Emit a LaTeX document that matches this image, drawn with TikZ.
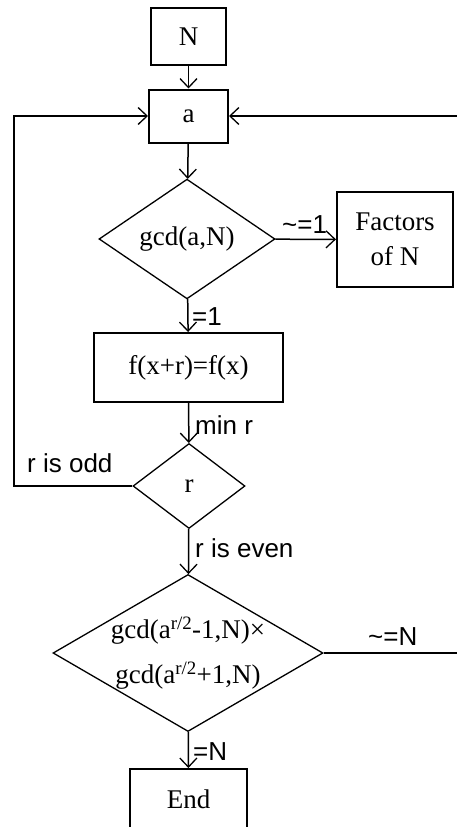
\documentclass[tikz,border=0pt]{standalone}
\usepackage{fontspec}
\setmainfont{Liberation Serif}
\setsansfont{Liberation Sans}
\usetikzlibrary{shapes.geometric,arrows.meta}

\tikzset{
  caja/.style={draw, line width=2pt, inner sep=0pt, align=center,
    font=\rmfamily\fontsize{27}{35}\selectfont},
  decision/.style={draw, diamond, line width=1.3pt, inner sep=0pt,
    font=\rmfamily\fontsize{27}{35}\selectfont},
  flecha/.style={-{Straight Barb[length=9pt,width=17pt,line width=1.3pt]}, line width=1.5pt},
  etiqueta/.style={anchor=west, inner sep=0pt, font=\sffamily\fontsize{26}{30}\selectfont}
}

\begin{document}
\begin{tikzpicture}[x=1pt,y=-1pt]
\useasboundingbox (0,0) rectangle (457,827);

% Cajas
\node[caja, minimum width=75pt, minimum height=57pt] (N) at (188.5,36.5) {N};
\node[caja, minimum width=79pt, minimum height=53pt] (a) at (188.5,116) {a};
\node[caja, minimum width=116pt, minimum height=95pt] (fac) at (395,239.5) {Factors\\of N};
\node[caja, minimum width=189pt, minimum height=69pt] (f) at (188.5,367.5) {f(x+r)=f(x)};
\node[caja, minimum width=117pt, minimum height=60pt] (fin) at (188.5,799) {End};

% Rombos de decision
\node[decision, minimum width=176pt, minimum height=114pt] (gcd) at (187,239) {gcd(a,N)};
\node[decision, minimum width=112pt, minimum height=85pt] (r) at (189,486) {r};
\node[decision, minimum width=270pt, minimum height=157pt] (prueba) at (188,653) {};
\node[align=center, inner sep=0pt, font=\rmfamily\fontsize{27}{45}\selectfont] at (prueba.center)
  {gcd(a\textsuperscript{r/2}-1,N)×\\gcd(a\textsuperscript{r/2}+1,N)};

% Flechas
\draw[flecha] (N) -- (a);
\draw[flecha] (a) -- (gcd);
\draw[flecha] (gcd) -- (fac);
\draw[flecha] (gcd) -- (f);
\draw[flecha] (f) -- (r);
\draw[flecha] (r) -- (prueba);
\draw[flecha] (prueba) -- (fin);

% Vueltas hacia a
\coordinate (izq) at (14,116);
\coordinate (der) at (470,116);
\draw[flecha] (r.west) -| (izq) -- (a.west);
\draw[flecha] (prueba.east) -| (der) -- (a.east);

% Etiquetas
\node[etiqueta] at (282,225) {\textasciitilde=1};
\node[etiqueta] at (192,317) {=1};
\node[etiqueta] at (195,425) {min r};
\node[etiqueta] at (27,463) {r is odd};
\node[etiqueta] at (195,548) {r is even};
\node[etiqueta] at (368,637) {\textasciitilde=N};
\node[etiqueta] at (193,752) {=N};
\end{tikzpicture}
\end{document}
